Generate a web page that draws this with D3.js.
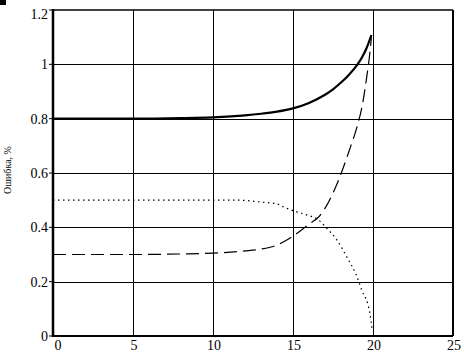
<!DOCTYPE html>
<html>
<head>
<meta charset="utf-8">
<script src="https://cdn.jsdelivr.net/npm/d3@7"></script>
<style>
body { margin: 0; background: #fff; }
text { font-family: "Liberation Serif", "Times New Roman", serif; fill: #000; }
</style>
</head>
<body>
<div id="chart"></div>
<script>
var xTicks = [0, 5, 10, 15, 20, 25];
var yTicks = [0, 0.2, 0.4, 0.6, 0.8, 1, 1.2];
var yTickLabels = ["0", "0.2", "0.4", "0.6", "0.8", "1", "1.2"];
var yTitle = "Ошибка, %";

// solid curve
var solidX = [0, 5, 8, 10, 12, 13, 14, 15, 16, 17, 17.5, 18, 18.5, 19, 19.3, 19.6, 19.9];
var solidY = [0.8, 0.8, 0.802, 0.805, 0.812, 0.818, 0.826, 0.838, 0.858, 0.888, 0.908, 0.933, 0.962, 0.997, 1.024, 1.06, 1.108];
// dashed curve
var dashX = [0, 5, 8, 10, 12, 13, 14, 14.8, 16.1, 16.6, 17.1, 17.8, 18.5, 19, 19.3, 19.6, 19.8, 19.9];
var dashY = [0.3, 0.3, 0.302, 0.305, 0.313, 0.32, 0.335, 0.36, 0.416, 0.438, 0.48, 0.567, 0.68, 0.77, 0.84, 0.95, 1.04, 1.1];
// dotted curve
var dotX = [0, 5, 10, 11.5, 13, 14, 14.6, 15.3, 15.9, 16.6, 17.1, 17.75, 18.4, 18.9, 19.3, 19.8, 19.95];
var dotY = [0.5, 0.5, 0.5, 0.5, 0.493, 0.486, 0.47, 0.456, 0.445, 0.427, 0.397, 0.353, 0.287, 0.232, 0.169, 0.085, 0.02];

var width = 464, height = 354;
var pLeft = 53, pRight = 453, pTop = 10, pBottom = 336;

var x = d3.scaleLinear().domain([0, 25]).range([pLeft, pRight]);
var y = d3.scaleLinear().domain([0, 1.2]).range([pBottom, pTop]);

var svg = d3.select("#chart").append("svg")
  .attr("width", width)
  .attr("height", height);

svg.append("rect").attr("x", 0).attr("y", 0).attr("width", 6).attr("height", 5).attr("fill", "#000");

// grid
svg.append("g").selectAll("line")
  .data(xTicks.filter(function(d) { return d > 0 && d < 25; }))
  .enter().append("line")
  .attr("x1", function(d) { return Math.round(x(d)) + 0.5; })
  .attr("x2", function(d) { return Math.round(x(d)) + 0.5; })
  .attr("y1", pTop).attr("y2", pBottom)
  .attr("stroke", "#000").attr("stroke-width", 1);

svg.append("g").selectAll("line")
  .data(yTicks.filter(function(d) { return d > 0 && d < 1.2; }))
  .enter().append("line")
  .attr("y1", function(d) { return Math.round(y(d)) + 0.5; })
  .attr("y2", function(d) { return Math.round(y(d)) + 0.5; })
  .attr("x1", pLeft).attr("x2", pRight)
  .attr("stroke", "#000").attr("stroke-width", 1);

// frame
svg.append("line").attr("x1", pLeft).attr("x2", pRight).attr("y1", pTop).attr("y2", pTop).attr("stroke", "#000").attr("stroke-width", 1.5);
svg.append("line").attr("x1", pRight).attr("x2", pRight).attr("y1", pTop).attr("y2", pBottom).attr("stroke", "#000").attr("stroke-width", 2);
svg.append("line").attr("x1", pLeft).attr("x2", pRight).attr("y1", pBottom).attr("y2", pBottom).attr("stroke", "#000").attr("stroke-width", 2);
svg.append("line").attr("x1", pLeft).attr("x2", pLeft).attr("y1", pTop - 1).attr("y2", pBottom + 1).attr("stroke", "#000").attr("stroke-width", 2.5);

// y ticks + labels
var yAxis = svg.append("g");
yAxis.selectAll("line.tk").data(yTicks).enter().append("line")
  .attr("x1", pLeft - 4).attr("x2", pLeft)
  .attr("y1", function(d) { return y(d); }).attr("y2", function(d) { return y(d); })
  .attr("stroke", "#000").attr("stroke-width", 1);
yAxis.selectAll("text").data(yTicks).enter().append("text")
  .attr("x", pLeft - 5)
  .attr("y", function(d) { return Math.max(y(d), 14); })
  .attr("dy", "0.35em")
  .attr("text-anchor", "end")
  .attr("font-size", 14)
  .text(function(d, i) { return yTickLabels[i]; });

// x labels
svg.append("g").selectAll("text").data(xTicks).enter().append("text")
  .attr("x", function(d) { return d === 0 ? x(d) + 5 : x(d) + 1; })
  .attr("y", 350)
  .attr("text-anchor", "middle")
  .attr("font-size", 14)
  .text(function(d) { return d; });

// y title
svg.append("text")
  .attr("transform", "translate(11,170) rotate(-90)")
  .attr("text-anchor", "middle")
  .attr("font-size", 10)
  .text(yTitle);

var line = d3.line()
  .x(function(d) { return x(d[0]); })
  .y(function(d) { return y(d[1]); })
  .curve(d3.curveMonotoneX);

function pairs(xs, ys) {
  return xs.map(function(v, i) { return [v, ys[i]]; });
}

svg.append("path").datum(pairs(dotX, dotY))
  .attr("d", line).attr("fill", "none").attr("stroke", "#000")
  .attr("stroke-width", 1.2).attr("stroke-dasharray", "1.5,3.5");

svg.append("path").datum(pairs(dashX, dashY))
  .attr("d", line).attr("fill", "none").attr("stroke", "#000")
  .attr("stroke-width", 1.2).attr("stroke-dasharray", "13,6");

svg.append("path").datum(pairs(solidX, solidY))
  .attr("d", line).attr("fill", "none").attr("stroke", "#000")
  .attr("stroke-width", 2.2);
</script>
</body>
</html>
